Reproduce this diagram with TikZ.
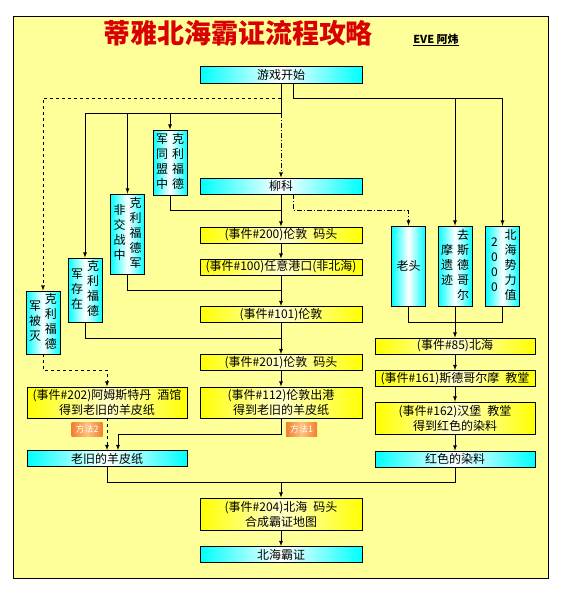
\documentclass[tikz,border=0pt]{standalone}
\usepackage{xcolor}
\definecolor{ffff99}{HTML}{ffff99}
\definecolor{ffff00}{HTML}{ffff00}
\definecolor{ffffcc}{HTML}{ffffcc}
\definecolor{00ffff}{HTML}{00ffff}
\definecolor{e00000}{HTML}{d80000}
\definecolor{f08030}{HTML}{f08030}
\definecolor{ffc080}{HTML}{ffc080}
\usepackage{fontspec}
\setmainfont{Noto Sans CJK SC}
\usepackage{array}
\usepackage{tikz}

\newcommand{\vcol}[1]{\begin{tabular}[c]{@{}wc{12pt}@{}}#1\end{tabular}}

\begin{document}
\begin{tikzpicture}[x=1pt, y=-1pt, line width=0.8pt,
            font=\fontsize{12}{15}\selectfont,
            ybox/.style={draw, inner sep=0pt, minimum width=162pt, minimum height=16pt, align=center,
                left color=ffff00, right color=ffff00, middle color=ffffcc},
            cbox/.style={draw, inner sep=0pt, minimum width=162pt, minimum height=16pt, align=center,
                left color=00ffff, right color=00ffff, middle color=white},
            vbox/.style={draw, inner sep=0pt, minimum width=34pt, minimum height=80pt,
                left color=00ffff, right color=00ffff, middle color=white},
            tag/.style={inner sep=0pt, minimum width=31pt, minimum height=14pt, text=white,
                font=\fontsize{9}{9}\selectfont, left color=f08030, right color=f08030, middle color=ffc080},
            arr/.style={-latex},
            chainline/.style={dash pattern=on 5pt off 2pt on 1pt off 2pt}]
            \useasboundingbox (0, 0) rectangle (562, 595);
            \fill[white] (0, 0) rectangle (562, 595);
            \draw[fill=ffff99] (13, 16) rectangle (548, 578);

            \node[text=e00000, font=\fontsize{27}{27}\selectfont\bfseries] (title) at (238, 33) {蒂雅北海霸证流程攻略};
            \node[font=\fontsize{11}{11}\selectfont\bfseries] (author) at (436, 40) {\underline{EVE 阿炜}};

            \coordinate (rowA) at (0, 98);
            \coordinate (rowB) at (0, 113);
            \coordinate (rowC) at (0, 210);
            \coordinate (rowD) at (0, 290);
            \coordinate (rowE) at (0, 338);
            \coordinate (rowF) at (0, 370);
            \coordinate (rowG) at (0, 434);
            \coordinate (rowH) at (0, 482);
            \coordinate (rowI) at (0, 322);

            \node[cbox, minimum height=17pt] (start) at (281, 74.5) {游戏开始};
            \node[cbox] (liuke) at (281, 186) {柳科};
            \node[ybox] (e200) at (281, 235) {(事件\#200)伦敦\enspace 码头};
            \node[ybox] (e100) at (281, 267) {(事件\#100)任意港口(非北海)};
            \node[ybox] (e101) at (281, 314.5) {(事件\#101)伦敦};
            \node[ybox] (e201) at (281, 362.5) {(事件\#201)伦敦\enspace 码头};
            \node[ybox, minimum height=31pt] (e112) at (281, 402.5) {(事件\#112)伦敦出港\\得到老旧的羊皮纸};
            \node[ybox, minimum height=32pt] (e204) at (281, 514) {(事件\#204)北海\enspace 码头\\合成霸证地图};
            \node[cbox] (final) at (281, 554.5) {北海霸证};

            \node[ybox, minimum width=160pt, minimum height=31pt] (e202) at (107, 402.5) {(事件\#202)阿姆斯特丹\enspace 酒馆\\得到老旧的羊皮纸};
            \node[cbox, minimum width=160pt] (parch) at (107, 458.5) {老旧的羊皮纸};

            \node[ybox, minimum width=160pt] (e85) at (455, 346) {(事件\#85)北海};
            \node[ybox, minimum width=160pt] (e161) at (455, 378.5) {(事件\#161)斯德哥尔摩\enspace 教堂};
            \node[ybox, minimum width=160pt, minimum height=32pt] (e162) at (455, 418) {(事件\#162)汉堡\enspace 教堂\\得到红色的染料};
            \node[cbox, minimum width=160pt] (reddye) at (455, 459) {红色的染料};

            \node[vbox, minimum height=65pt] (tongmeng) at (170, 162.5) {\vcol{军\\同\\盟\\中}\hspace{4pt}\vcol{克\\利\\福\\德}};
            \node[vbox] (feijiao) at (127.5, 234) {\vcol{非\\交\\战\\中}\hspace{4pt}\vcol{克\\利\\福\\德\\军}};
            \node[vbox, minimum height=64pt] (cunzai) at (85, 290) {\vcol{军\\存\\在}\hspace{4pt}\vcol{克\\利\\福\\德}};
            \node[vbox, minimum height=63pt] (beimie) at (43, 322.5) {\vcol{军\\被\\灭}\hspace{4pt}\vcol{克\\利\\福\\德}};
            \node[vbox] (laotou) at (408.5, 266) {老头};
            \node[vbox] (stock) at (455, 266) {\vcol{摩\\遗\\迹}\hspace{4pt}\vcol{去\\斯\\德\\哥\\尔}};
            \node[vbox] (power) at (502.5, 266) {\vcol{2\\0\\0\\0}\hspace{4pt}\vcol{北\\海\\势\\力\\值}};

            \node[tag] (way2) at (87, 429.5) {方法2};
            \node[tag] (way1) at (301.5, 429.5) {方法1};

            \draw (start.south) -- (start.south |- rowB);
            \draw[chainline, arr] (start.south |- rowB) -- (liuke.north);
            \draw[dashed, arr] (start.south |- rowA) -| (beimie.north);
            \draw[arr] (start.south |- rowB) -| (cunzai.north);
            \draw[arr] (feijiao.north |- rowB) -- (feijiao.north);
            \draw[arr] (tongmeng.north |- rowB) -- (tongmeng.north);
            \draw[arr] ([xshift=12pt]start.south) |- (power.north |- rowA) -- (power.north);
            \draw[arr] (stock.north |- rowA) -- (stock.north);

            \draw[arr] (liuke.south) -- (e200.north);
            \draw (tongmeng.south) |- (liuke.south |- rowC);
            \draw[chainline, arr] ([xshift=12pt]liuke.south) |- (laotou.north |- rowC) -- (laotou.north);
            \draw[arr] (e200.south) -- (e100.north);
            \draw[arr] (e100.south) -- (e101.north);
            \draw (feijiao.south) |- (e100.south |- rowD);
            \draw[arr] (e101.south) -- (e201.north);
            \draw (cunzai.south) |- (e101.south |- rowE);
            \draw[arr] (e201.south) -- (e112.north);

            \draw[dashed, arr] (beimie.south) |- (e202.north |- rowF) -- (e202.north);
            \draw[dashed, arr] (e202.south) -- (parch.north);
            \draw[arr] (e112.south) |- ([xshift=11pt]parch.north |- rowG) -- ([xshift=11pt]parch.north);
            \draw (parch.south) |- (e204.north |- rowH);
            \draw (reddye.south) |- (e204.north |- rowH);
            \draw[arr] (e204.north |- rowH) -- (e204.north);
            \draw[arr] (e204.south) -- (final.north);

            \draw (laotou.south) |- (power.south |- rowI) -- (power.south);
            \draw (stock.south) -- (stock.south |- rowI);
            \draw[arr] (stock.south |- rowI) -- (e85.north);
            \draw[arr] (e85.south) -- (e161.north);
            \draw[arr] (e161.south) -- (e162.north);
            \draw[arr] (e162.south) -- (reddye.north);
        \end{tikzpicture}
\end{document}
